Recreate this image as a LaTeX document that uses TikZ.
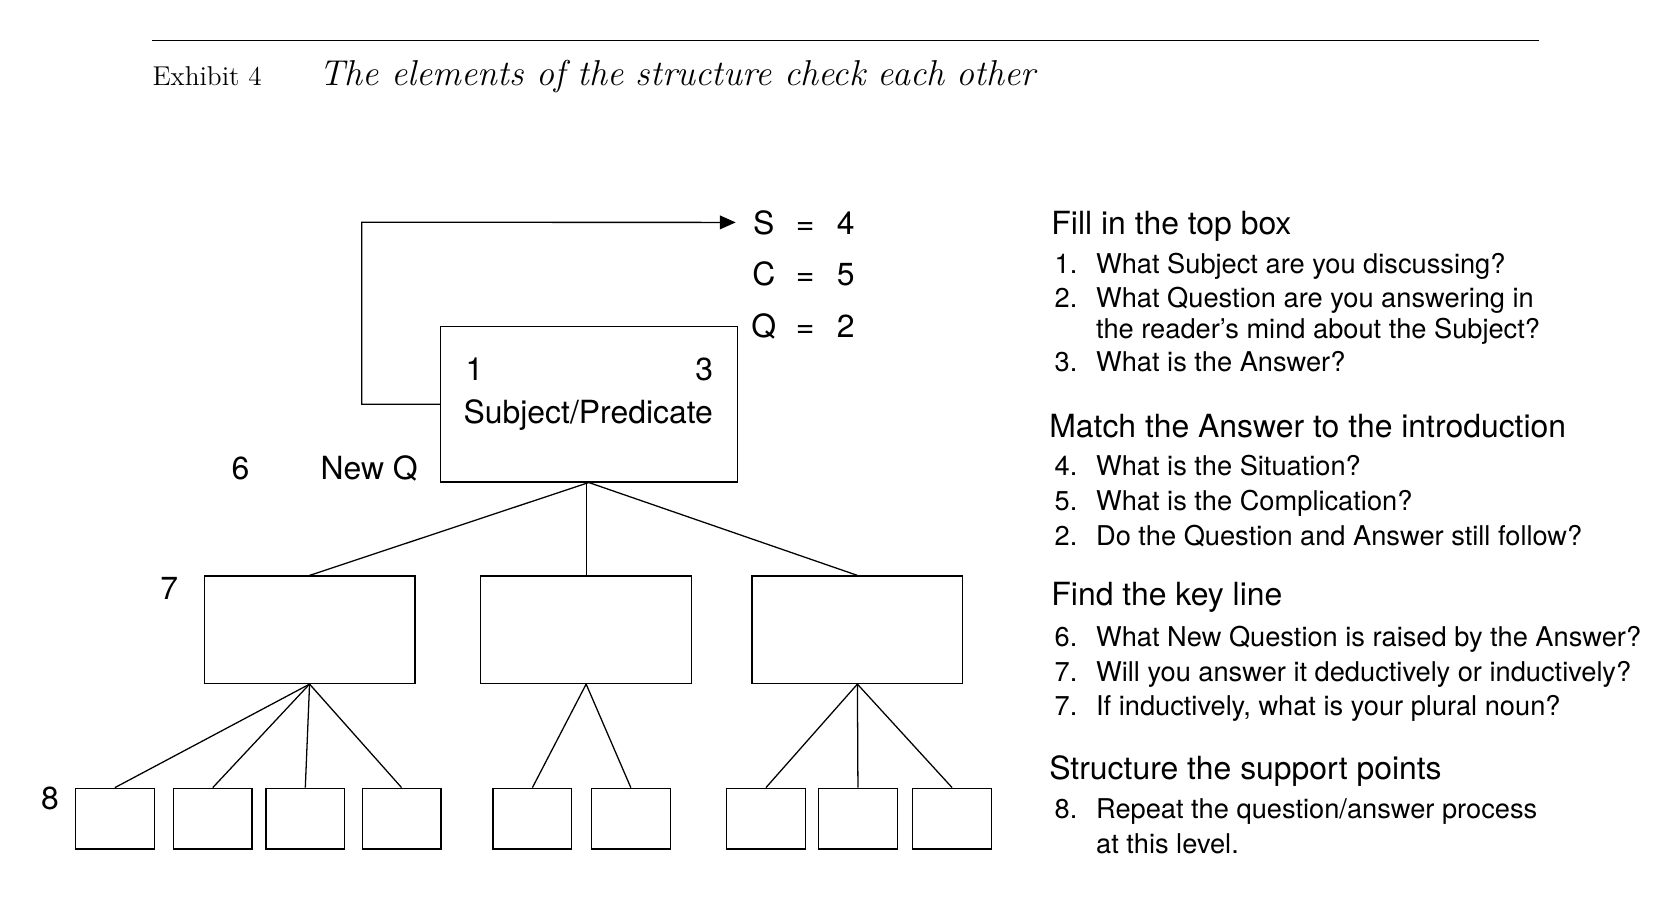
\documentclass[tikz,border=0pt]{standalone}
\usepackage{fontspec}
\setsansfont{TeX Gyre Heros}
\usetikzlibrary{arrows.meta, positioning}
\tikzstyle{box}=[draw=black, line width=0.6pt, shape=rectangle, inner sep=0pt]
\tikzstyle{lbl}=[font=\sffamily\fontsize{15}{18}\selectfont, inner sep=0pt, anchor=base]
\tikzstyle{head}=[font=\sffamily\fontsize{15}{18}\selectfont, inner sep=0pt, anchor=base west]
\tikzstyle{item}=[font=\sffamily\fontsize{12.8}{15}\selectfont, inner sep=0pt, anchor=base west]
\tikzstyle{link}=[line width=0.6pt]
\newcommand{\num}[1]{\makebox[19.5pt][l]{#1}}

\begin{document}
\begin{tikzpicture}[x=0.5pt, y=-0.5pt]
	\useasboundingbox (0,0) rectangle (1568,850);
	\fill[white] (0,0) rectangle (1568,850);

	% exhibit heading
	\draw[line width=0.7pt] (143,38) -- (1447,38);
	\node[anchor=base west, inner sep=0pt, font=\fontsize{12.8}{15}\selectfont] (exh) at (143,80) {Exhibit 4};
	\node[anchor=base west, inner sep=0pt, font=\itshape\fontsize{16.9}{20}\selectfont] (title) at (300,80) {The elements of the structure check each other};

	% top box
	\node[style=box, minimum width=139.5pt, minimum height=73pt] (1) at (553.5,380) {};
	\node[style=lbl] (n1) at (446,358) {1};
	\node[style=lbl] (n3) at (662,358) {3};
	\node[style=lbl] (sp) at (553,398) {Subject/Predicate};

	% S C Q
	\node[style=lbl] (s) at (718,220) {S};
	\node[style=lbl] (seq) at (757,220) {=};
	\node[style=lbl] (sv) at (795,220) {4};
	\node[style=lbl] (c) at (718,268) {C};
	\node[style=lbl] (ceq) at (757,268) {=};
	\node[style=lbl] (cv) at (795,268) {5};
	\node[style=lbl] (q) at (718,317) {Q};
	\node[style=lbl] (qeq) at (757,317) {=};
	\node[style=lbl] (qv) at (795,317) {2};

	\coordinate (fb) at (340,209);
	\draw[style=link, -{Triangle[length=7.5pt,width=6.5pt]}, shorten >=8pt] (1.west) -| (fb) -- (s.west);

	% level labels
	\node[style=lbl] (l6) at (226,451) {6};
	\node[style=lbl] (newq) at (347,451) {New Q};
	\node[style=lbl] (l7) at (159,564) {7};
	\node[style=lbl] (l8) at (47,761) {8};

	% key line
	\node[style=box, minimum width=99pt, minimum height=50.5pt] (2) at (291,592) {};
	\node[style=box, minimum width=99pt, minimum height=50.5pt] (3) at (551,592) {};
	\node[style=box, minimum width=99pt, minimum height=50.5pt] (4) at (806,592) {};

	% support points
	\node[style=box, minimum width=37pt, minimum height=28.5pt] (5) at (108,769.5) {};
	\node[style=box, minimum width=37pt, minimum height=28.5pt] (6) at (200,769.5) {};
	\node[style=box, minimum width=37pt, minimum height=28.5pt] (7) at (287,769.5) {};
	\node[style=box, minimum width=37pt, minimum height=28.5pt] (8) at (377.5,769.5) {};
	\node[style=box, minimum width=37pt, minimum height=28.5pt] (9) at (500.5,769.5) {};
	\node[style=box, minimum width=37pt, minimum height=28.5pt] (10) at (593,769.5) {};
	\node[style=box, minimum width=37pt, minimum height=28.5pt] (11) at (720,769.5) {};
	\node[style=box, minimum width=37pt, minimum height=28.5pt] (12) at (806.5,769.5) {};
	\node[style=box, minimum width=37pt, minimum height=28.5pt] (13) at (895,769.5) {};

	\draw[style=link] (2.north) to (1.south);
	\draw[style=link] (3.north) to (3.north |- 1.south);
	\draw[style=link] (4.north) to (1.south);
	\draw[style=link] (5.north) to (2.south);
	\draw[style=link] (6.north) to (2.south);
	\draw[style=link] (7.north) to (2.south);
	\draw[style=link] (8.north) to (2.south);
	\draw[style=link] (9.north) to (3.south);
	\draw[style=link] (10.north) to (3.south);
	\draw[style=link] (11.north) to (4.south);
	\draw[style=link] (12.north) to (4.south);
	\draw[style=link] (13.north) to (4.south);

	% checklist
	\node[style=head] (h1) at (988,220) {Fill in the top box};
	\node[style=item] (q1) at (991,257) {\num{1.}What Subject are you discussing?};
	\node[style=item] (q2) at (991,289) {\num{2.}What Question are you answering in};
	\node[style=item] (q2b) at (991,318) {\num{}the reader's mind about the Subject?};
	\node[style=item] (q3) at (991,349) {\num{3.}What is the Answer?};

	\node[style=head] (h2) at (986,411) {Match the Answer to the introduction};
	\node[style=item] (q4) at (991,447) {\num{4.}What is the Situation?};
	\node[style=item] (q5) at (991,480) {\num{5.}What is the Complication?};
	\node[style=item] (q2c) at (991,513) {\num{2.}Do the Question and Answer still follow?};

	\node[style=head] (h3) at (988,569) {Find the key line};
	\node[style=item] (q6) at (991,608) {\num{6.}What New Question is raised by the Answer?};
	\node[style=item] (q7) at (991,641) {\num{7.}Will you answer it deductively or inductively?};
	\node[style=item] (q7b) at (991,673) {\num{7.}If inductively, what is your plural noun?};

	\node[style=head] (h4) at (986,733) {Structure the support points};
	\node[style=item] (q8) at (991,769) {\num{8.}Repeat the question/answer process};
	\node[style=item] (q8b) at (991,802) {\num{}at this level.};
\end{tikzpicture}
\end{document}
